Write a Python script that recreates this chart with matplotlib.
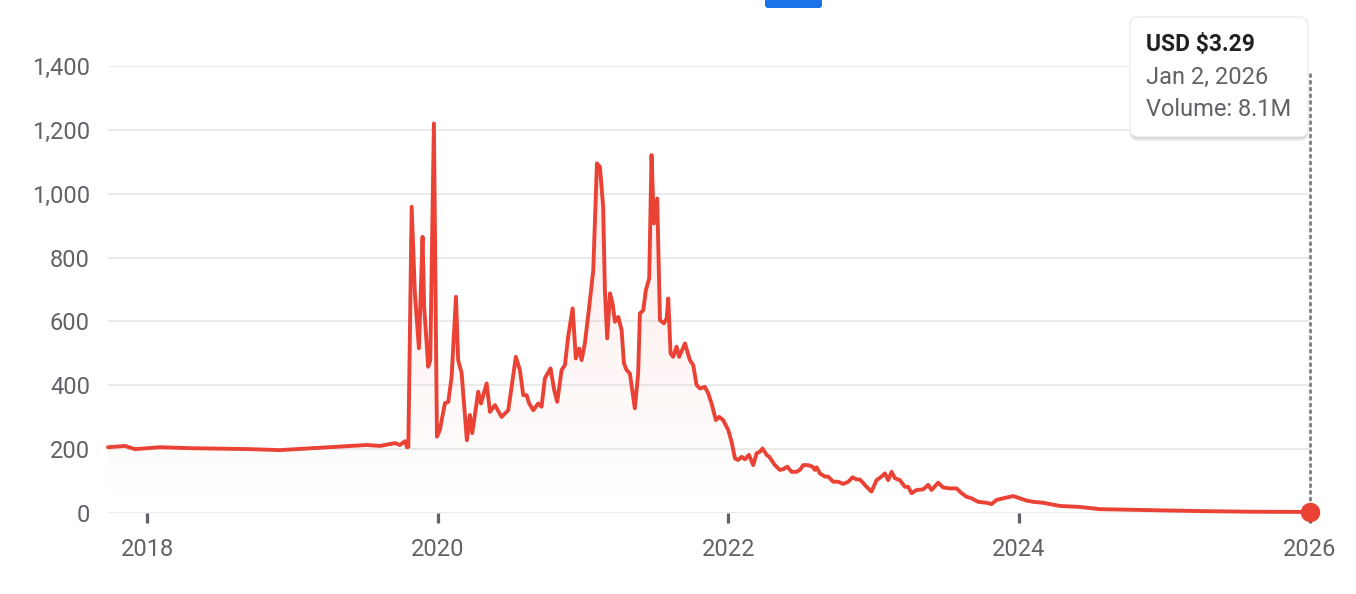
import numpy as np
import matplotlib
matplotlib.use("Agg")
from matplotlib import pyplot as plt
from matplotlib.patches import FancyBboxPatch, Polygon
from matplotlib.transforms import IdentityTransform

# Price history, time in decimal years, price in USD
years = [
    2017.730, 2017.847, 2017.915, 2018.087, 2018.300, 2018.707, 2018.913, 2019.257,
    2019.512, 2019.602, 2019.705, 2019.739, 2019.774, 2019.788, 2019.797, 2019.820,
    2019.842, 2019.870, 2019.895, 2019.906, 2019.934, 2019.948, 2019.973, 2019.994,
    2020.014, 2020.049, 2020.072, 2020.095, 2020.125, 2020.140, 2020.164, 2020.200,
    2020.221, 2020.237, 2020.278, 2020.297, 2020.336, 2020.359, 2020.393, 2020.439,
    2020.485, 2020.537, 2020.565, 2020.588, 2020.611, 2020.629, 2020.657, 2020.691,
    2020.714, 2020.737, 2020.776, 2020.801, 2020.822, 2020.852, 2020.875, 2020.897,
    2020.928, 2020.950, 2020.973, 2020.990, 2021.012, 2021.042, 2021.070, 2021.095,
    2021.116, 2021.138, 2021.150, 2021.166, 2021.185, 2021.203, 2021.219, 2021.242,
    2021.265, 2021.281, 2021.299, 2021.322, 2021.356, 2021.379, 2021.391, 2021.414,
    2021.432, 2021.455, 2021.471, 2021.487, 2021.510, 2021.529, 2021.556, 2021.575,
    2021.586, 2021.602, 2021.620, 2021.643, 2021.661, 2021.701, 2021.735, 2021.758,
    2021.781, 2021.804, 2021.838, 2021.861, 2021.884, 2021.914, 2021.937, 2021.964,
    2021.999, 2022.022, 2022.045, 2022.067, 2022.091, 2022.114, 2022.141, 2022.171,
    2022.194, 2022.217, 2022.235, 2022.263, 2022.281, 2022.320, 2022.354, 2022.377,
    2022.405, 2022.435, 2022.469, 2022.492, 2022.515, 2022.549, 2022.579, 2022.595,
    2022.607, 2022.630, 2022.664, 2022.687, 2022.721, 2022.756, 2022.790, 2022.825,
    2022.855, 2022.882, 2022.905, 2022.951, 2022.985, 2023.020, 2023.054, 2023.077,
    2023.100, 2023.123, 2023.146, 2023.180, 2023.215, 2023.237, 2023.261, 2023.295,
    2023.341, 2023.375, 2023.398, 2023.444, 2023.478, 2023.524, 2023.570, 2023.605,
    2023.639, 2023.674, 2023.719, 2023.777, 2023.811, 2023.846, 2023.891, 2023.960,
    2024.006, 2024.052, 2024.098, 2024.167, 2024.213, 2024.281, 2024.419, 2024.557,
    2024.901, 2025.245, 2025.589, 2026.003,
]
prices = [
    206, 210, 200, 206, 203, 200, 197, 206,
    213, 210, 219, 213, 225, 206, 207, 959,
    689, 516, 865, 646, 458, 479, 1220, 239,
    260, 344, 348, 427, 677, 479, 438, 228,
    307, 250, 380, 343, 406, 317, 338, 301,
    322, 489, 448, 369, 369, 343, 322, 343,
    333, 422, 453, 385, 348, 448, 463, 552,
    641, 484, 515, 479, 531, 646, 761, 1095,
    1084, 959, 698, 547, 688, 656, 599, 614,
    573, 469, 448, 437, 328, 437, 625, 635,
    698, 735, 1121, 907, 985, 604, 594, 609,
    672, 500, 489, 521, 489, 531, 479, 463,
    401, 390, 395, 375, 343, 291, 301, 291,
    260, 223, 171, 166, 176, 168, 182, 150,
    187, 192, 202, 182, 176, 150, 135, 137,
    145, 129, 129, 135, 150, 150, 145, 135,
    143, 124, 114, 114, 98, 98, 91, 98,
    112, 105, 105, 82, 67, 103, 114, 124,
    103, 129, 109, 103, 82, 82, 62, 72,
    74, 88, 72, 95, 80, 77, 77, 62,
    51, 46, 35, 32, 28, 41, 46, 53,
    46, 39, 35, 32, 28, 22, 19, 12,
    9, 6, 4, 3.29,
]
y_ticks = [0, 200, 400, 600, 800, 1000, 1200, 1400]
x_ticks = [2018, 2020, 2022, 2024, 2026]
tooltip_lines = ["USD $3.29", "Jan 2, 2026", "Volume: 8.1M"]

RED = "#ea4335"
GREY_TEXT = "#5f6368"
W, H = 1356, 594

plt.rcParams["font.family"] = ["Roboto", "DejaVu Sans"]

fig = plt.figure(figsize=(W / 100, H / 100), dpi=100)
ax = fig.add_axes([108 / W, (H - 513) / H, (1310 - 108) / W, (513 - 66) / H])

x = np.array(years)
y = np.array(prices)

# Limits and grid
ax.set_xlim(years[0], years[-1])
ax.set_ylim(0, 1400)
for v in y_ticks:
    ax.axhline(v, color="#ebebeb", lw=1.4, zorder=0)
for s in ax.spines.values():
    s.set_visible(False)

# Gradient fill under the line
grad = np.zeros((256, 2, 4))
grad[..., :3] = matplotlib.colors.to_rgb(RED)
grad[..., 3] = np.linspace(0.13, 0.0, 256)[:, None]
img = ax.imshow(grad, extent=(years[0], years[-1], 0, 1250), origin="upper",
                aspect="auto", zorder=1, interpolation="bilinear")
poly = Polygon(np.column_stack([np.r_[x, x[-1], x[0]], np.r_[y, 0, 0]]),
               closed=True, facecolor="none", edgecolor="none")
ax.add_patch(poly)
img.set_clip_path(poly)

# Price line
ax.plot(x, y, color=RED, lw=2.8, solid_joinstyle="round", solid_capstyle="round",
        zorder=3, clip_on=False)

# Hover marker and dotted guide
ax.plot([years[-1], years[-1]], [0, 1380], color="#80868b", lw=2.2,
        linestyle=(0, (0.6, 1.6)), dash_capstyle="round", zorder=2, clip_on=False)
ax.plot([years[-1]], [prices[-1]], "o", color=RED, markersize=13, zorder=4, clip_on=False)

# Ticks
ax.set_yticks(y_ticks)
ax.set_yticklabels([f"{v:,}" for v in y_ticks])
ax.tick_params(axis="y", length=0, pad=13, labelsize=17, labelcolor=GREY_TEXT)
ax.set_xticks(x_ticks)
ax.set_xticklabels([str(v) for v in x_ticks])
ax.tick_params(axis="x", length=7, width=2.3, color=GREY_TEXT, pad=11,
               labelsize=17, labelcolor=GREY_TEXT)

# Tooltip box (pixel coordinates)
for dy, a in [(-4, 0.06), (-2.5, 0.08), (-1, 0.08)]:
    fig.patches.append(FancyBboxPatch((1130, H - 137 + dy), 178, 120,
                                      boxstyle="round,pad=0,rounding_size=8",
                                      transform=IdentityTransform(), facecolor="black",
                                      edgecolor="none", alpha=a, zorder=5))
fig.patches.append(FancyBboxPatch((1130, H - 137), 178, 120,
                                  boxstyle="round,pad=0,rounding_size=8",
                                  transform=IdentityTransform(), facecolor="white",
                                  edgecolor="#e6e6e6", lw=0.8, zorder=6))
fig.text(1146, H - 44, tooltip_lines[0], transform=IdentityTransform(), va="center",
         fontsize=16.5, fontweight="bold", color="#202124", zorder=7)
fig.text(1146, H - 77, tooltip_lines[1], transform=IdentityTransform(), va="center",
         fontsize=17, color=GREY_TEXT, zorder=7)
fig.text(1146, H - 109, tooltip_lines[2], transform=IdentityTransform(), va="center",
         fontsize=17, color=GREY_TEXT, zorder=7)

# Blue tab at top
fig.patches.append(FancyBboxPatch((765, H - 8), 57, 14,
                                  boxstyle="round,pad=0,rounding_size=3",
                                  transform=IdentityTransform(), facecolor="#1a73e8",
                                  edgecolor="none", zorder=5))

fig.savefig("out.png", dpi=100)
